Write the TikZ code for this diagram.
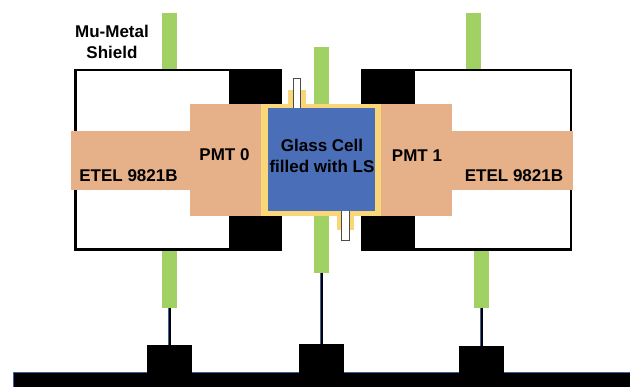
\documentclass[tikz,border=0pt]{standalone}
\usepackage{fontspec}
\setmainfont{Liberation Sans}
\definecolor{shieldgreen}{HTML}{A0D162}
\definecolor{pmtsalmon}{HTML}{E6B088}
\definecolor{cellyellow}{HTML}{F9D778}
\definecolor{cellblue}{HTML}{4A6FB8}
\definecolor{edgeblue}{HTML}{3E62A8}
\tikzset{
  x=1pt,y=-1pt,
  blk/.style={fill=#1,draw=none,inner sep=0pt,outer sep=0pt},
  frame/.style={draw=black,line width=2.6pt,fill=white,inner sep=0pt,outer sep=0pt},
  tube/.style={draw=black!70,line width=1pt,fill=white,inner sep=0pt,outer sep=0pt},
  cable/.style={draw=black,line width=2pt,preaction={draw=edgeblue,line width=3.2pt}},
  lbl/.style={font=\fontsize{17}{21}\selectfont\bfseries,text=black,inner sep=0pt,align=center}
}
% #1 name, #2 style, #3 x1, #4 y1, #5 x2, #6 y2
\newcommand{\boxnode}[6]{%
  \node[#2,anchor=north west,minimum width=#5-#3,minimum height=#6-#4] (#1) at (#3,#4) {};}
\begin{document}
\begin{tikzpicture}
\useasboundingbox (0,0) rectangle (632,387);
\fill[white] (0,0) rectangle (632,387);
% green shields behind
\boxnode{gtl}{blk=shieldgreen}{162}{13}{177}{70}
\boxnode{gtr}{blk=shieldgreen}{466}{13}{481}{70}
\boxnode{gc}{blk=shieldgreen}{314}{47}{329}{273}
\boxnode{gbl}{blk=shieldgreen}{162}{250}{177}{308}
\boxnode{gbr}{blk=shieldgreen}{474}{250}{489}{308}
% frames
\boxnode{fl}{frame}{75.2}{70.2}{280.8}{249.8}
\boxnode{fr}{frame}{362.2}{70.2}{570.8}{249.8}
% black blocks
\boxnode{ktl}{blk=black}{229}{69}{282}{104}
\boxnode{kbl}{blk=black}{229}{216}{282}{251}
\boxnode{ktr}{blk=black}{361}{69}{415}{104}
\boxnode{kbr}{blk=black}{361}{216}{415}{251}
% PMTs
\boxnode{el}{blk=pmtsalmon}{71}{131}{190}{190}
\boxnode{pl}{blk=pmtsalmon}{190}{104}{262}{216}
\boxnode{pr}{blk=pmtsalmon}{381}{104}{452}{216}
\boxnode{er}{blk=pmtsalmon}{452}{131}{573}{190}
% cell
\boxnode{ct}{blk=cellyellow}{288}{90}{306}{105}
\boxnode{cb}{blk=cellyellow}{337}{215}{354}{230}
\boxnode{cy}{blk=cellyellow}{261}{104}{381}{216}
\boxnode{tt}{tube}{293.5}{79}{300.5}{109}
\boxnode{tb}{tube}{341.5}{211}{349}{241}
\boxnode{cell}{blk=cellblue}{268}{108}{375}{211}
% electronics
\boxnode{base}{blk=black}{13}{372.5}{630}{387}
\draw[edgeblue,line width=.7pt] (base.north west)--(base.north east) (base.north west)--(base.south west);
\boxnode{bl}{blk=black}{147}{345}{192}{373}
\boxnode{bc}{blk=black}{299}{344}{344}{373}
\boxnode{br}{blk=black}{459}{346}{504}{373}
\draw[cable] (gbl.south) -- (bl.north);
\draw[cable] (gc.south) -- (bc.north);
\draw[cable] (gbr.south) -- (br.north);
% labels
\node[lbl] (mu) at (112,41.5) {Mu-Metal\\[0pt]Shield};
\node[lbl] (p0) at (224.5,155) {PMT 0};
\node[lbl] (p1) at (417,156) {PMT 1};
\node[lbl] (e0) at (128.5,176) {ETEL 9821B};
\node[lbl] (e1) at (514,176) {ETEL 9821B};
\node[lbl] (gl) at (322,155.5) {Glass Cell\\[0pt]filled with LS};
\end{tikzpicture}
\end{document}
